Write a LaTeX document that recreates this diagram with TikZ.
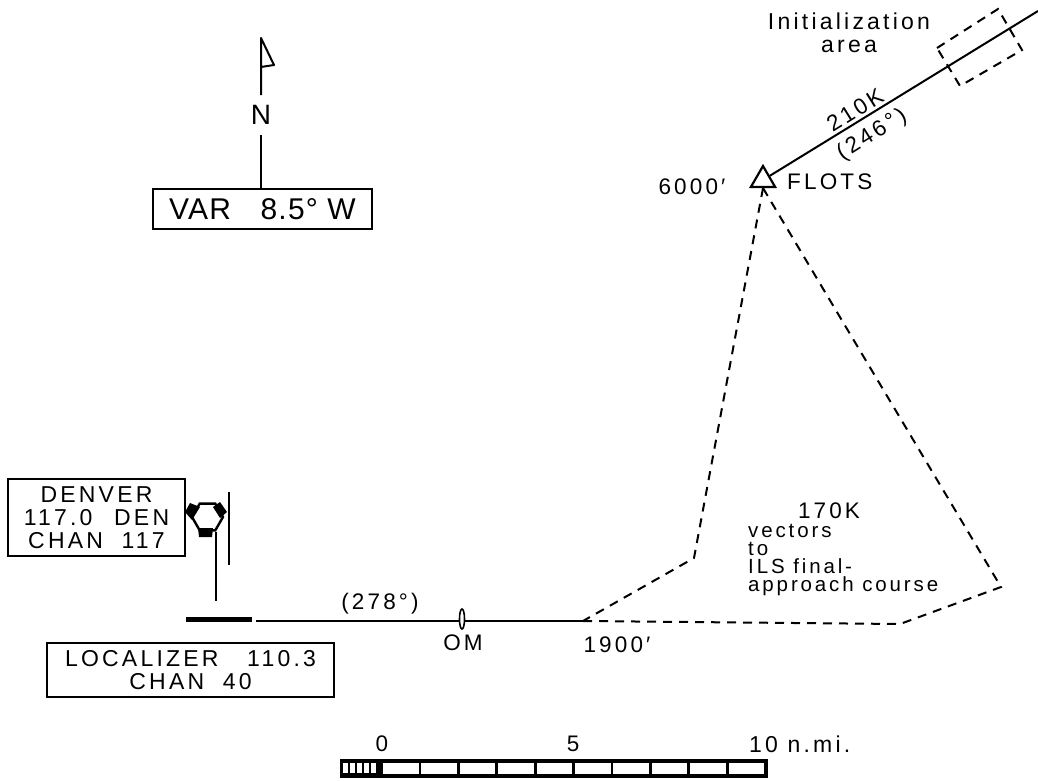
\documentclass[tikz,border=0pt]{standalone}
\usepackage{fontspec}
\setmainfont{Liberation Sans}
\newfontfamily\wide[LetterSpace=14]{Liberation Sans}
\newfontfamily\snug[LetterSpace=4]{Liberation Sans}
\usetikzlibrary{arrows.meta,positioning,shapes.geometric,calc}
\newcommand{\lab}{\fontsize{22.5}{18}\selectfont\wide}
\newcommand{\veclab}{\fontsize{20.5}{18}\selectfont\wide}
\newcommand{\boxlab}{\fontsize{23}{23}\selectfont\wide}

\begin{document}
\begin{tikzpicture}[x=1pt,y=-1pt,
tag/.style={draw,line width=2pt,align=center,inner sep=0pt,font=\boxlab},
txt/.style={align=center,inner sep=0pt,font=\lab},
course/.style={line width=2pt},
route/.style={line width=2pt,dash pattern=on 9pt off 7pt},
cell/.style={fill=white,draw=none}]
\useasboundingbox (0,0) rectangle (1038,781);
% north arrow
\node[inner xsep=0pt,inner ysep=10pt,font=\fontsize{28}{28}\selectfont](n) at (261,115){N};
\node[tag,minimum width=219pt,minimum height=40pt,font=\fontsize{30}{30}\selectfont\snug](var) at (262.5,209){VAR\hspace{20pt} 8.5° W};
\coordinate (top) at (261,38);
\coordinate (barb) at (274,65);
\coordinate (foot) at (261,67);
\draw[course,line join=round](n.north)--(top)--(barb)--(foot);
\draw[course](n.south)--(n.south|-var.north);
% boxes
\node[tag,minimum width=177pt,minimum height=77pt](den) at (96.5,517.5){DENVER\\117.0\hspace{12pt} DEN\\CHAN\hspace{9pt} 117};
\node[tag,minimum width=287pt,minimum height=54pt](loc) at (190.5,670){LOCALIZER\hspace{19pt} 110.3\\CHAN\hspace{9pt} 40};
% vortac
\node[draw,line width=2.4pt,fill=white,regular polygon,regular polygon sides=6,minimum size=31pt,inner sep=0pt](vor) at (207.5,517){};
\fill (190,503)--(200,507)--(192,520)--(185,512)--cycle;
\fill (220,502)--(227,512)--(220,518)--(213,507)--cycle;
\fill (198,528)--(213,528)--(212,537)--(199,537)--cycle;
\coordinate (mastb) at (216,601);
\draw[line width=2.8pt](vor.south -| mastb)--(mastb);
\coordinate (rodt) at (229,492);
\coordinate (rodb) at (229,565);
\draw[line width=2.6pt](rodt)--(rodb);
% final approach
\node[fill=black,minimum width=66pt,minimum height=5pt,inner sep=0pt](bar) at (219,619){};
\coordinate (turn) at (583,621);
\draw[course,shorten <=4pt](turn-|bar.east)--(turn);
\node[draw,line width=1.6pt,fill=white,ellipse,minimum width=5pt,minimum height=20pt,inner sep=0pt](om) at (462,619){};
\node[txt](crs) at (380,604){(278°)};
\node[txt](omt) at (463,643){OM};
\node[txt](alt) at (617,645){1900′};
% flots
\node[draw,line width=2.2pt,regular polygon,regular polygon sides=3,minimum size=28pt,inner sep=0pt](flots) at (763,180){};
\node[txt,anchor=west](ft) at (787,182){FLOTS};
\node[txt](six) at (692,187){6000′};
\coordinate (far) at (1038,11);
\draw[course](flots)--(far);
\node[txt,rotate=32](spd) at (855,110){210K};
\node[txt,rotate=32](hdg) at (872,135){(246°)};
\draw[route] (937,48)--(998,9)--(1022,50)--(960,86)--cycle;
\node[txt,font=\fontsize{23}{18}\selectfont\wide](init) at (849,33){Initialization\\[5pt]area};
% vectors
\coordinate (v1) at (694,558);
\coordinate (v2) at (900,624);
\coordinate (v3) at (1001,587);
\draw[route](flots.south)--(v1)--(turn);
\draw[route](turn)--(v2)--(v3)--(flots.south);
\node[txt](kt) at (829,511){170K};
\node[txt,font=\veclab,align=left,anchor=north west](vec) at (748,524){vectors\\to\\ILS final-\\approach course};
% scale
\node[fill=black,minimum width=428pt,minimum height=19pt,inner sep=0pt](scale) at (554,768.5){};
\foreach \i in {0,...,9}
  \fill[cell] ({383+38.4*\i},763) rectangle ++(35.5,11);
\foreach \i in {0,...,4}
  \fill[cell] ({342.5+7*\i},763) rectangle ++(5,10);
\node[txt](s0) at (382,744){0};
\node[txt](s5) at (573,744){5};
\node[txt,font=\fontsize{23}{18}\selectfont\wide,anchor=west](s10) at (749,744){10 n.mi.};
\end{tikzpicture}
\end{document}
